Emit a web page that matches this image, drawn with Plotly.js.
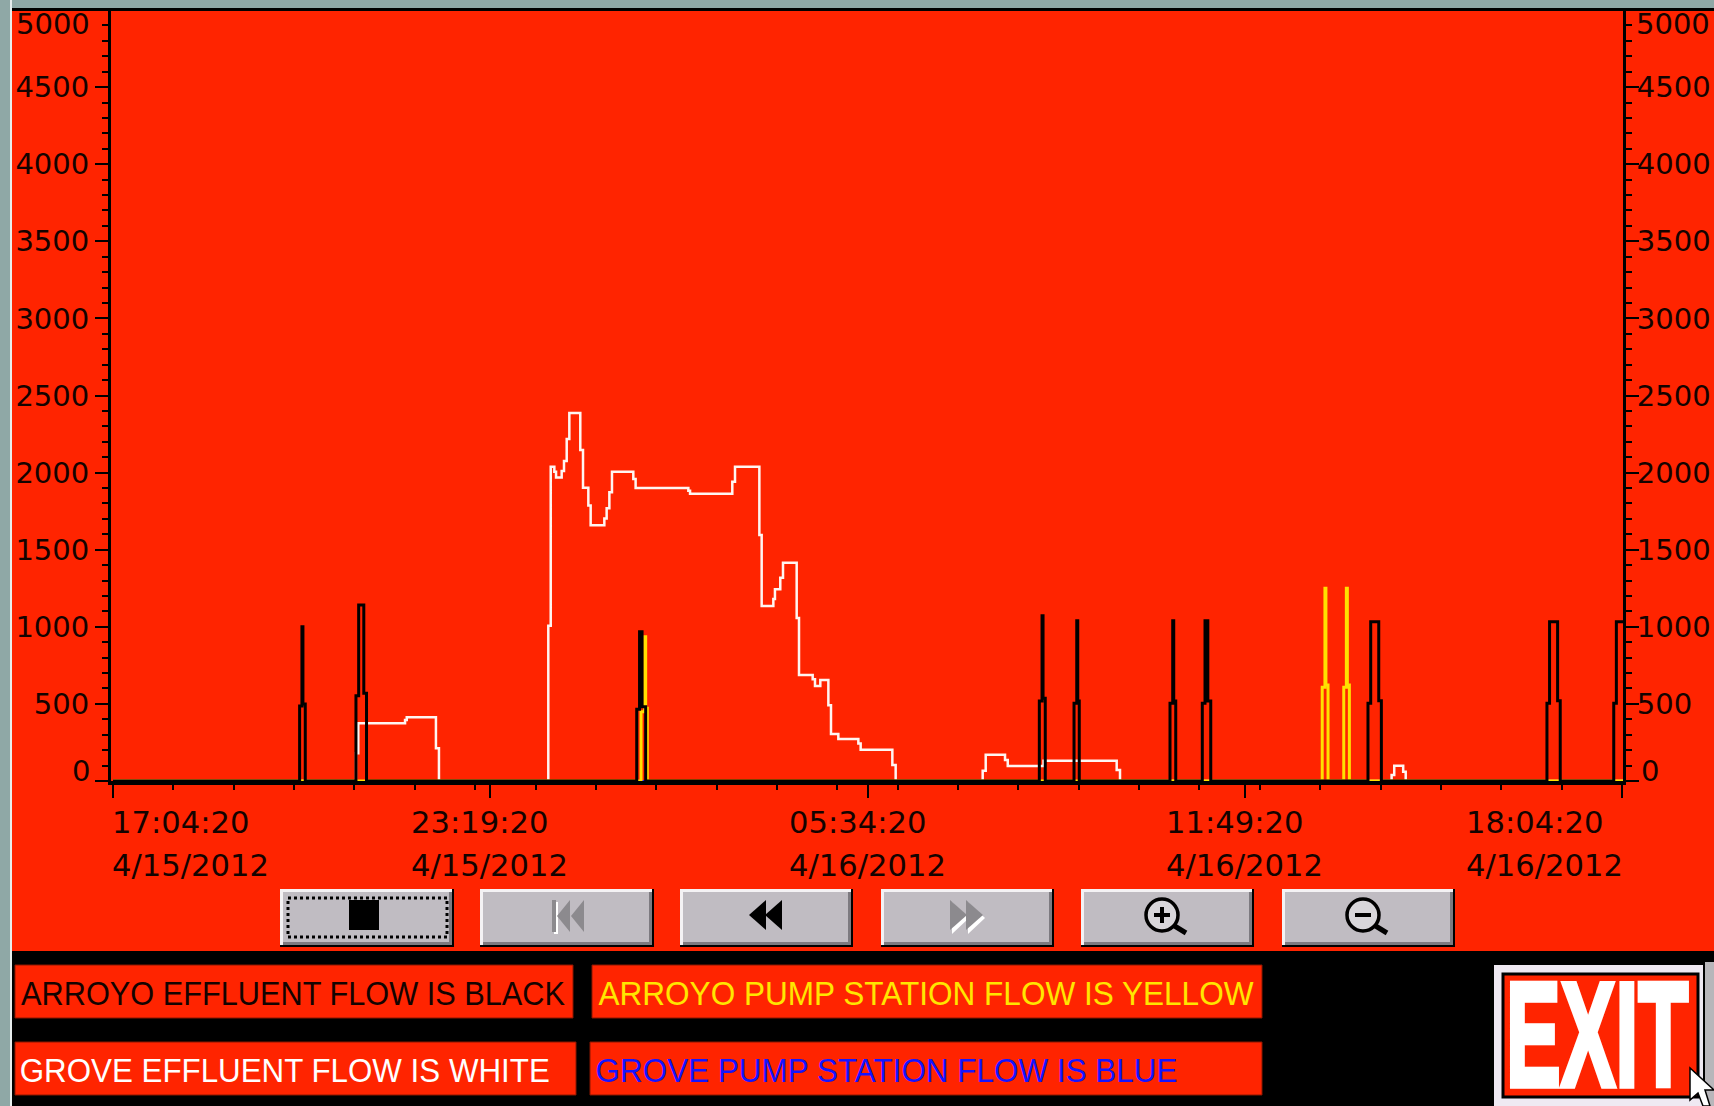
<!DOCTYPE html>
<html>
<head>
<meta charset="utf-8">
<script src="https://cdn.plot.ly/plotly-3.0.1.min.js"></script>
<style>html,body{margin:0;padding:0;background:#ff2400;overflow:hidden}#chart{width:1714px;height:1106px}</style>
</head>
<body>
<div id="chart"></div>
<script>
// Elapsed minutes since 17:04:20 on 4/15/2012, flow values (stepped lines)
const blackMinutes = [0,185.5,187.8,188.8,191.1,241.5,244.2,249.3,252,520.6,523.4,525.9,529.5,920.8,923.5,924.5,926.7,955.3,958,959,960.5,1050.7,1053.4,1054.4,1056.4,1082.8,1085.5,1088.3,1091.2,1247.5,1250.2,1258.2,1260.8,1425.4,1428,1436,1438.6,1491.8,1494.4,1501];
const blackFlow    = [0,486,1000,499,0,553,1141,569,0,465,968,482,0,519,1072,536,0,504,1040,519,0,504,1040,519,0,504,1040,519,0,504,1033,521,0,504,1033,521,0,504,1033,1033];
const yellowMinutes = [0,524.9,528.5,529.5,531.1,1202,1204.7,1205.7,1207.8,1223.4,1226,1227,1229,1501];
const yellowFlow    = [0,449,936,471,0,608,1250,623,0,608,1250,623,0,0];
const whiteMinutes = [0,241.5,243.8,290.3,292,321,324,432.7,435.1,438.7,440.4,446,448.3,451,453.6,464.5,467.2,472.5,474.8,488.4,490.7,493.4,496,517.2,519.5,571.9,573.6,615.6,618.3,642.5,644.8,656.4,658,663.3,666,679.6,681.9,695.5,697.8,703.1,711.1,713.7,721,740.9,743.2,774.7,778,864.5,867.5,886.7,889.4,925,997.7,1001,1271,1273.6,1282.5,1285,1501];
const whiteFlow    = [0,180,374,395,413,212,0,1007,2038,2006,1969,2010,2075,2218,2386,2146,1902,1786,1658,1703,1768,1872,2006,1958,1900,1883,1863,1941,2038,1595,1135,1180,1243,1318,1416,1057,687,660,616,655,491,305,272,244,203,104,0,67,171,136,97,132,71,0,39,99,60,0,0];
const blueMinutes = [0,1501];
const blueFlow    = [0,0];

const seriesNames = ['GROVE PUMP STATION FLOW','GROVE EFFLUENT FLOW','ARROYO PUMP STATION FLOW','ARROYO EFFLUENT FLOW'];
const flowTicks = [0,500,1000,1500,2000,2500,3000,3500,4000,4500,5000];
const flowTickLabels = ['','500','1000','1500','2000','2500','3000','3500','4000','4500',''];
const timeTicks = [0,375,750,1125,1500];
const timeLabels = ['17:04:20','23:19:20','05:34:20','11:49:20','18:04:20'];
const dateLabels = ['4/15/2012','4/15/2012','4/16/2012','4/16/2012','4/16/2012'];
const legendTexts = ['ARROYO EFFLUENT FLOW IS BLACK','ARROYO PUMP STATION FLOW IS YELLOW','GROVE EFFLUENT FLOW IS WHITE','GROVE PUMP STATION FLOW IS BLUE'];

const W=1714,H=1106,mL=111,mR=91,mT=10,mB=325;
const RED='#ff2400',GREY='#c0bcc2',STRIP='#8fa8a6',INK='#140300';
const X=p=>(p-mL)/(W-mL-mR), Y=p=>1-(p-mT)/(H-mT-mB);

const shapes=[];
function rect(x0,y0,x1,y1,fill,line,lw,dash){
  shapes.push({type:'rect',xref:'paper',yref:'paper',x0:X(x0),x1:X(x1),y0:Y(y0),y1:Y(y1),layer:'above',
    fillcolor:fill||'rgba(0,0,0,0)',line:{color:line||'rgba(0,0,0,0)',width:lw||0,dash:dash||'solid'}});
}
function poly(pts,fill,line,lw){
  const d=pts.map((p,i)=>(i?'L':'M')+X(p[0])+' '+Y(p[1])).join(' ')+' Z';
  shapes.push({type:'path',xref:'paper',yref:'paper',path:d,layer:'above',
    fillcolor:fill,line:{color:line||'rgba(0,0,0,0)',width:lw||0}});
}
function seg(x0,y0,x1,y1,c,lw){
  shapes.push({type:'line',xref:'paper',yref:'paper',x0:X(x0),x1:X(x1),y0:Y(y0),y1:Y(y1),layer:'above',line:{color:c,width:lw}});
}
function circ(cx,cy,r,fill,line,lw){
  shapes.push({type:'circle',xref:'paper',yref:'paper',x0:X(cx-r),x1:X(cx+r),y0:Y(cy-r),y1:Y(cy+r),layer:'above',
    fillcolor:fill,line:{color:line,width:lw}});
}
function button(x0,x1){
  const y0=889,y1=945;
  rect(x0,y0,x1+2,y1+2,'#000');
  rect(x0,y0,x1,y1,'#f4f2f4');
  rect(x0+3,y0+3,x1,y1,'#7d7a80');
  rect(x0+3,y0+3,x1-3,y1-3,GREY);
}
// window chrome and black panel
rect(0,951,W,H,'#000');
rect(0,0,W,8,STRIP);
rect(0,8,W,11,'#000');
rect(0,0,10,H,STRIP);
rect(10,0,12,H,'#e8eeee');
// buttons
button(280,452);button(480,652);button(680,851);button(881,1052);button(1081,1252);button(1282,1453);
rect(288,898,447,937,null,'#000',3,'dot');
rect(349,900,379,930,'#000');
// skip-back (disabled)
rect(554,902,558,934,'#fff');
rect(552,900,556,932,'#8c8a8e');
poly([[570,900],[557,916],[570,932]],'#8c8a8e');
poly([[584,900],[571,916],[584,932]],'#8c8a8e');
// rewind
poly([[766,900],[749,915],[766,930]],'#000');
poly([[782,900],[765,915],[782,930]],'#000');
// forward (disabled)
poly([[952,902],[969,918],[952,934]],'#fff');
poly([[968,902],[985,918],[968,934]],'#fff');
poly([[950,900],[967,915],[950,930]],'#8c8a8e');
poly([[966,900],[983,915],[966,930]],'#8c8a8e');
// zoom glasses
[[1162,915,true],[1363,915,false]].forEach(g=>{
  seg(g[0]+11,g[1]+10,g[0]+24,g[1]+18,'#000',5);
  circ(g[0],g[1],16,'#d8d6da','#000',3.5);
  rect(g[0]-8,g[1]-2,g[0]+8,g[1]+2,'#000');
  if(g[2]) rect(g[0]-2,g[1]-8,g[0]+2,g[1]+8,'#000');
});
// legend boxes
[[15,965,573,1018],[592,965,1262,1018],[15,1042,576,1095],[590,1042,1262,1095]].forEach(b=>rect(b[0],b[1],b[2],b[3],RED,'#8a1600',1));
// exit sign
rect(1705,962,W,H,'#b8b6ba');
rect(1494,965,1703,H,'#efe9f2');
rect(1503,974,1698,1097,RED,'#000',3);
// mouse cursor
poly([[1690,1068],[1690,1100],[1698,1093],[1703,1106],[1710,1106],[1705,1090],[1714,1090]],'#fff','#000',1.5);

const annotations=[];
function label(x,y,text,size,color,anchor,extra){
  annotations.push(Object.assign({xref:'paper',yref:'paper',x:X(x),y:Y(y),text:text,showarrow:false,
    xanchor:anchor||'center',yanchor:'middle',borderpad:0,
    font:{family:'DejaVu Sans',size:size,color:color}},extra||{}));
}
label(91,24,'5000',29,INK,'right');
label(91,771,'0',29,INK,'right');
label(1635,24,'5000',29,INK,'left');
label(1640,771,'0',29,INK,'left');
const labelShift=[-2,-80,-80,-80,-157];
timeTicks.forEach((t,i)=>{
  [[timeLabels[i],822],[dateLabels[i],865]].forEach(l=>{
    annotations.push({xref:'x',yref:'paper',x:t,y:Y(l[1]),xshift:labelShift[i],text:l[0],showarrow:false,
      xanchor:'left',yanchor:'middle',borderpad:0,font:{family:'DejaVu Sans',size:30.6,color:INK}});
  });
});
const legendFont='Liberation Sans';
const legendSpec=[[293,993,INK,544],[925.5,993,'#ffe600',655],[285,1070,'#ffffff',530],[886,1070,'#1414ff',582]];
legendTexts.forEach((t,i)=>{
  const s=legendSpec[i];
  label(s[0],s[1],t,34,s[2],'center',{font:{family:legendFont,size:34,color:s[2]}});
});
const exitScale=1.8;
label(1596.5,1034,'EXIT',82,'#ffffff','center',{font:{family:legendFont,size:82,color:'#ffffff',weight:700}});
const fitted={};
legendTexts.forEach((t,i)=>fitted[t]=legendSpec[i][3]);

const stepTrace=(name,x,y,color,width)=>({type:'scatter',mode:'lines',name:name,x:x,y:y,cliponaxis:false,
  line:{shape:'hv',color:color,width:width},hoverinfo:'skip'});
const traces=[
  stepTrace(seriesNames[0],blueMinutes,blueFlow,'#1414ff',2),
  stepTrace(seriesNames[1],whiteMinutes,whiteFlow,'#fff6f2',2.5),
  stepTrace(seriesNames[2],yellowMinutes,yellowFlow,'#ffe000',3),
  stepTrace(seriesNames[3],blackMinutes,blackFlow,'#000000',3),
  {type:'scatter',mode:'lines',name:'right scale',x:[null],y:[null],yaxis:'y2',hoverinfo:'skip'}
];
const yAxisCommon={range:[0,5000],type:'linear',tickmode:'array',tickvals:flowTicks,ticktext:flowTickLabels,
  ticks:'outside',ticklen:13,tickwidth:2,tickcolor:'#000',showgrid:false,zeroline:false,
  showline:true,linecolor:'#000',linewidth:3,
  tickfont:{family:'DejaVu Sans',size:29,color:INK},
  minor:{tickmode:'linear',tick0:0,dtick:100,ticks:'outside',ticklen:6,tickwidth:2,tickcolor:'#000',showgrid:false}};
const layout={
  width:W,height:H,showlegend:false,hovermode:false,
  paper_bgcolor:RED,plot_bgcolor:RED,
  margin:{l:mL,r:mR,t:mT,b:mB,pad:0},
  xaxis:{range:[-2,1501],type:'linear',tickmode:'array',tickvals:timeTicks,ticktext:timeTicks.map(()=>''),
    ticks:'outside',ticklen:13,tickwidth:2,tickcolor:'#000',showgrid:false,zeroline:false,
    showline:true,linecolor:'#000',linewidth:4,layer:'below traces',
    minor:{tickmode:'linear',tick0:0,dtick:60,ticks:'outside',ticklen:5,tickwidth:2,tickcolor:'#000',showgrid:false}},
  yaxis:Object.assign({side:'left'},yAxisCommon),
  yaxis2:Object.assign({side:'right',overlaying:'y',anchor:'x',ticklabelstandoff:-8},yAxisCommon),
  shapes:shapes,annotations:annotations
};
Plotly.newPlot('chart',traces,layout,{displayModeBar:false,staticPlot:true}).then(gd=>{
  gd.querySelectorAll('.annotation-text').forEach(t=>{
    const w=fitted[t.textContent];
    if(w){
      t.setAttribute('textLength',w);
      t.setAttribute('lengthAdjust','spacingAndGlyphs');
    }
    if(t.textContent==='EXIT'){
      const b=t.getBBox(),cx=b.x+b.width/2,cy=b.y+b.height/2;
      t.setAttribute('transform','translate('+cx+' '+cy+') scale(1 '+exitScale+') translate('+(-cx)+' '+(-cy)+')');
      t.style.stroke='#ffffff';t.style.strokeWidth='3px';
    }
  });
});
</script>
</body>
</html>
